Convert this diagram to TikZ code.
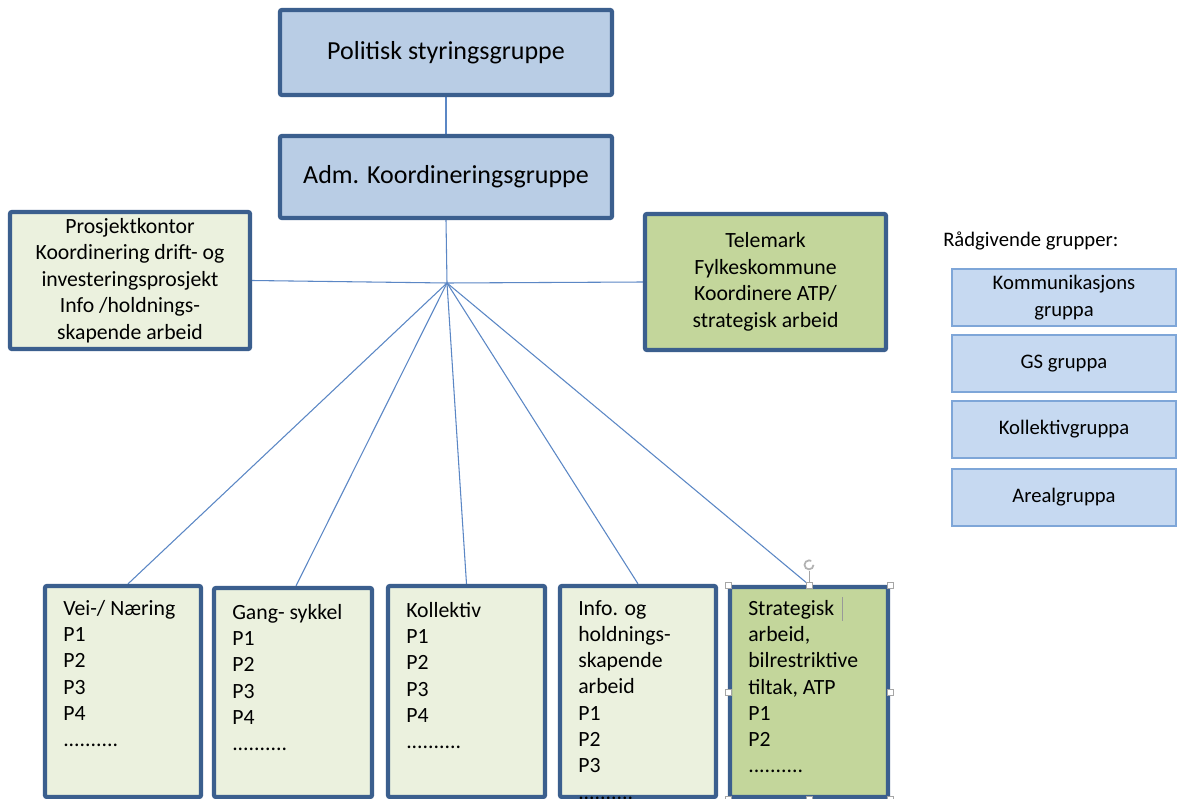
\documentclass[tikz,border=0pt]{standalone}
\usepackage{fontspec}
\setmainfont{Carlito}
\usetikzlibrary{backgrounds}
\definecolor{bord}{HTML}{3B5F8E}
\definecolor{lblue}{HTML}{B9CDE5}
\definecolor{lgreen}{HTML}{EBF1DE}
\definecolor{mgreen}{HTML}{C3D69B}
\definecolor{rfill}{HTML}{C6D9F1}
\definecolor{rbord}{HTML}{7EA6D8}
\definecolor{conncol}{HTML}{5B87C5}
\newcommand\pxbox[6]{%
  \node[#2, minimum width={(#5-#3)*0.75pt}, minimum height={(#6-#4)*0.75pt}] (#1) at ({(#3+#5)/2},{(#4+#6)/2}) {};}
\begin{document}
\begin{tikzpicture}[x=0.75pt,y=-0.75pt,
  boxbase/.style={draw=bord, line width=3.2pt, rounded corners=1.5pt, inner sep=0pt, rectangle},
  mainbox/.style={boxbase, fill=lblue},
  lightbox/.style={boxbase, fill=lgreen},
  greenbox/.style={boxbase, fill=mgreen},
  rbox/.style={draw=rbord, line width=1pt, fill=rfill, inner sep=0pt, rectangle},
  maintext/.style={font=\fontsize{19.5}{23}\selectfont, align=center, inner sep=0pt},
  sidetext/.style={font=\fontsize{16.3}{19.9}\selectfont, align=center, inner sep=0pt},
  listtext/.style={font=\fontsize{16.3}{19.7}\selectfont, align=left, inner sep=0pt, anchor=north west},
  rtext/.style={font=\fontsize{15.5}{19.9}\selectfont, align=center, inner sep=0pt},
  conn/.style={draw=conncol, line width=0.8pt},
  handle/.style={draw=gray!70, fill=white, line width=0.4pt, minimum size=4.5pt, inner sep=0pt, rectangle}
]
\useasboundingbox (0,0) rectangle (1179,799);
\clip (0,0) rectangle (1179,799);

\coordinate (hub) at (447,283);

\pxbox{pol}{mainbox}{280}{10}{612}{95}
\pxbox{adm}{mainbox}{280}{136}{612}{218}
\pxbox{pk}{lightbox}{10}{212}{250}{349}
\pxbox{tm}{greenbox}{645}{214}{886}{350}
\pxbox{vei}{lightbox}{45}{586}{201}{797}
\pxbox{gang}{lightbox}{214}{588}{372}{797}
\pxbox{kol}{lightbox}{388}{586}{545}{797}
\pxbox{info}{lightbox}{560}{586}{716}{797}
\pxbox{strat}{greenbox}{730}{587}{888}{797}

\begin{scope}[on background layer]
\fill[white] (0,0) rectangle (1179,799);
\draw[conn] (pol.south) -- (adm.north);
\draw[conn] (adm.south) -- (hub);
\draw[conn] (pk.east) -- (hub);
\draw[conn] (hub) -- (tm.west);
\draw[conn] (hub) -- ([xshift=3.75pt]vei.north);
\draw[conn] (hub) -- ([xshift=2.25pt]gang.north);
\draw[conn] (hub) -- (kol.north);
\draw[conn] (hub) -- (info.north);
\draw[conn] (hub) -- (strat.north);
\end{scope}

% texts
\node[maintext] (tpol) at (pol.center) {Politisk styringsgruppe};
\node[maintext] (tadm) at (adm.center) {Adm. Koordineringsgruppe};
\node[sidetext] (tpk) at (pk.center) {Prosjektkontor\\Koordinering drift- og\\investeringsprosjekt\\Info /holdnings-\\skapende arbeid};
\node[sidetext] (ttm) at (tm.center) {Telemark\\Fylkeskommune\\Koordinere ATP/\\strategisk arbeid};

\node[listtext] (tvei) at (63,600) {Vei-/ Næring\\P1\\P2\\P3\\P4\\..........};
\node[listtext] (tgang) at (232,604) {Gang- sykkel\\P1\\P2\\P3\\P4\\..........};
\node[listtext] (tkol) at (406,602) {Kollektiv\\P1\\P2\\P3\\P4\\..........};
\node[listtext] (tinfo) at (578,600) {Info. og\\holdnings-\\skapende\\arbeid\\P1\\P2\\P3\\..........};
\node[listtext] (tstrat) at (748,600) {Strategisk\\arbeid,\\bilrestriktive\\tiltak, ATP\\P1\\P2\\..........};

% selection artefacts on the strategic box
\draw[gray!80, line width=0.6pt] (842,597) -- (842,621);
\draw[gray!70, line width=0.5pt] (strat.north) -- ++(0,-14) coordinate (rot);
\draw[gray!60, line width=1.3pt] ([shift={(4.5,-6)}]rot) arc (0:300:4.5);
\foreach \a in {north west,north,north east,west,east,south west,south,south east}
  \node[handle] at (strat.\a) {};

% advisory groups
\node[font=\fontsize{15.5}{19}\selectfont, anchor=west, inner sep=0pt] (rg) at (943,241) {Rådgivende grupper:};
\pxbox{r1}{rbox}{952}{269}{1176}{326}
\pxbox{r2}{rbox}{952}{335}{1176}{392}
\pxbox{r3}{rbox}{952}{401}{1176}{458}
\pxbox{r4}{rbox}{952}{469}{1176}{526}
\node[rtext] at (r1.center) {Kommunikasjons\\gruppa};
\node[rtext] at (r2.center) {GS gruppa};
\node[rtext] at (r3.center) {Kollektivgruppa};
\node[rtext] at (r4.center) {Arealgruppa};
\end{tikzpicture}
\end{document}
